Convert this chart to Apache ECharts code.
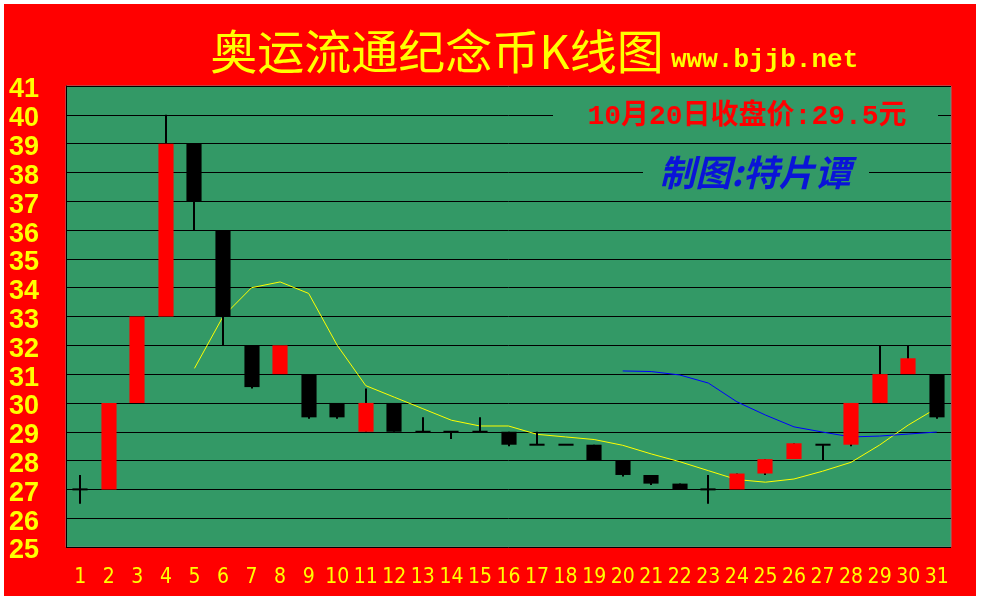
<!DOCTYPE html>
<html><head><meta charset="utf-8">
<script src="https://cdn.jsdelivr.net/npm/echarts@6/dist/echarts.min.js"></script>
<style>
html,body{margin:0;padding:0;background:#ffffff;}
#frame{position:absolute;left:4px;top:4px;width:972px;height:592px;background:#ff0000;}
#c{position:absolute;left:0;top:0;width:981px;height:600px;}
</style></head><body>
<div id="frame"></div><div id="c"></div>
<script>
const days = ['1','2','3','4','5','6','7','8','9','10','11','12','13','14','15','16','17','18','19','20','21','22','23','24','25','26','27','28','29','30','31'];
const openP  = [27,27,30,33,39,36,32,31,31,30,29,30,29,29,29,29,28.55,28.55,28.55,28,27.5,27.2,27,27,27.55,28.05,28.55,28.55,30,31,31];
const closeP = [27,30,33,39,37,33,30.55,32,29.5,29.5,30,29,29,29,29,28.55,28.55,28.55,28,27.5,27.2,27,27,27.55,28.05,28.6,28.55,30,31,31.55,29.5];
const lowP   = [26.5,27,30,33,36,32,30.5,31,29.45,29.45,29,29,29,28.75,29,28.5,28.55,28.55,28,27.45,27.15,27,26.5,27,27.5,28.05,28,28.5,30,31,29.45];
const highP  = [27.5,30,33,40,39,36,32,32,31,30,30.5,30,29.5,29,29.5,29,29,28.55,28.55,28,27.5,27.2,27.5,27.55,28.05,28.6,28.55,30,32,32,31];
const maShort = [null,null,null,null,31.2,33,34,34.2,33.8,32,30.6,30.2,29.8,29.4,29.2,29.2,28.91,28.82,28.73,28.53,28.23,27.96,27.65,27.34,27.25,27.36,27.63,27.94,28.54,29.23,29.82];
const maLong = [null,null,null,null,null,null,null,null,null,null,null,null,null,null,null,null,null,null,null,31.11,31.09,30.97,30.69,30.04,29.58,29.17,28.99,28.82,28.85,28.92,28.99];
const yMin = 25, yMax = 41, yStep = 1;
const titleText = '奥运流通纪念币K线图';
const siteText = 'www.bjjb.net';
const noteText = '10月20日收盘价:29.5元';
const authorText = '制图:特片谭';

const GREEN = '#339966';
const chart = echarts.init(document.getElementById('c'), null, {renderer:'canvas'});

function renderCandle(params, api){
  const i = api.value(0), o = api.value(1), c = api.value(2), l = api.value(3), h = api.value(4);
  const top = api.coord([i, Math.max(o, c)]);
  const bot = api.coord([i, Math.min(o, c)]);
  const pH = api.coord([i, h]);
  const pL = api.coord([i, l]);
  const w = api.size([1, 0])[0] * 0.53;
  const x = Math.round(top[0]);
  const children = [];
  if (pL[1] - pH[1] > 0.5) {
    children.push({type:'rect', shape:{x:x-1, y:pH[1], width:2, height:pL[1]-pH[1]}, style:{fill:'#000000'}});
  }
  const bh = bot[1] - top[1];
  if (bh < 2) {
    children.push({type:'rect', shape:{x:x - w/2, y:top[1]-1, width:w, height:2}, style:{fill:'#000000'}});
  } else {
    children.push({type:'rect', shape:{x:x - w/2, y:top[1], width:w, height:bh}, style:{fill: c > o ? '#ff0000' : '#000000'}});
  }
  return {type:'group', children};
}

const option = {
  animation:false,
  backgroundColor:'transparent',
  grid:{left:66, right:30, top:86, bottom:53, show:true, backgroundColor:GREEN, borderColor:'#808080', borderWidth:1},
  xAxis:{
    type:'category', data:days, boundaryGap:true,
    axisLine:{show:false}, axisTick:{show:false}, splitLine:{show:false},
    axisLabel:{color:'#ffff00', fontFamily:'"Liberation Sans Narrow","DejaVu Sans Condensed",sans-serif', fontSize:21, margin:20, interval:0}
  },
  yAxis:{
    type:'value', min:yMin, max:yMax, interval:yStep,
    axisLine:{show:true, lineStyle:{color:'#000000', width:1}},
    axisTick:{show:false},
    axisLabel:{align:'left', margin:57, formatter:'{v|{value}}',
      rich:{v:{color:'#ffff00', fontWeight:'bold', fontSize:27, fontFamily:'"Liberation Sans",Arial,sans-serif', padding:[8,0,0,0]}}},
    splitLine:{show:true, lineStyle:{color:'#000000', width:1}}
  },
  series:[
    {type:'line', data:maShort, symbol:'none', connectNulls:false, lineStyle:{color:'#ffff00', width:1}, z:3},
    {type:'line', data:maLong, symbol:'none', connectNulls:false, lineStyle:{color:'#0000ff', width:1}, z:3},
    {type:'custom', renderItem:renderCandle, encode:{x:0, y:[1,2,3,4]}, z:4,
     data: days.map((d, i) => [i, openP[i], closeP[i], lowP[i], highP[i]])}
  ],
  graphic:[
    {type:'text', z:100, style:{text:titleText, x:437, y:51, textAlign:'center', textVerticalAlign:'middle', fill:'#ffff00', font:'normal 47px "Noto Sans CJK SC", sans-serif'}},
    {type:'text', z:100, style:{text:siteText, x:671, y:60, textAlign:'left', textVerticalAlign:'middle', fill:'#ffff00', font:'bold 26px "Liberation Mono", monospace'}},
    {type:'rect', z:100, shape:{x:553, y:101, width:385, height:29}, style:{fill:GREEN}},
    {type:'text', z:101, style:{text:noteText, x:747, y:117, textAlign:'center', textVerticalAlign:'middle', fill:'#ff0000', font:'bold 28px "Liberation Mono", "Noto Sans CJK SC", sans-serif'}},
    {type:'rect', z:100, shape:{x:643, y:158, width:226, height:30}, style:{fill:GREEN}},
    {type:'text', z:101, style:{text:authorText, x:755, y:172, textAlign:'center', textVerticalAlign:'middle', fill:'#0a14d8', font:'italic bold 36px "Noto Sans CJK SC", sans-serif'}}
  ]
};
chart.setOption(option);
</script>
</body></html>
